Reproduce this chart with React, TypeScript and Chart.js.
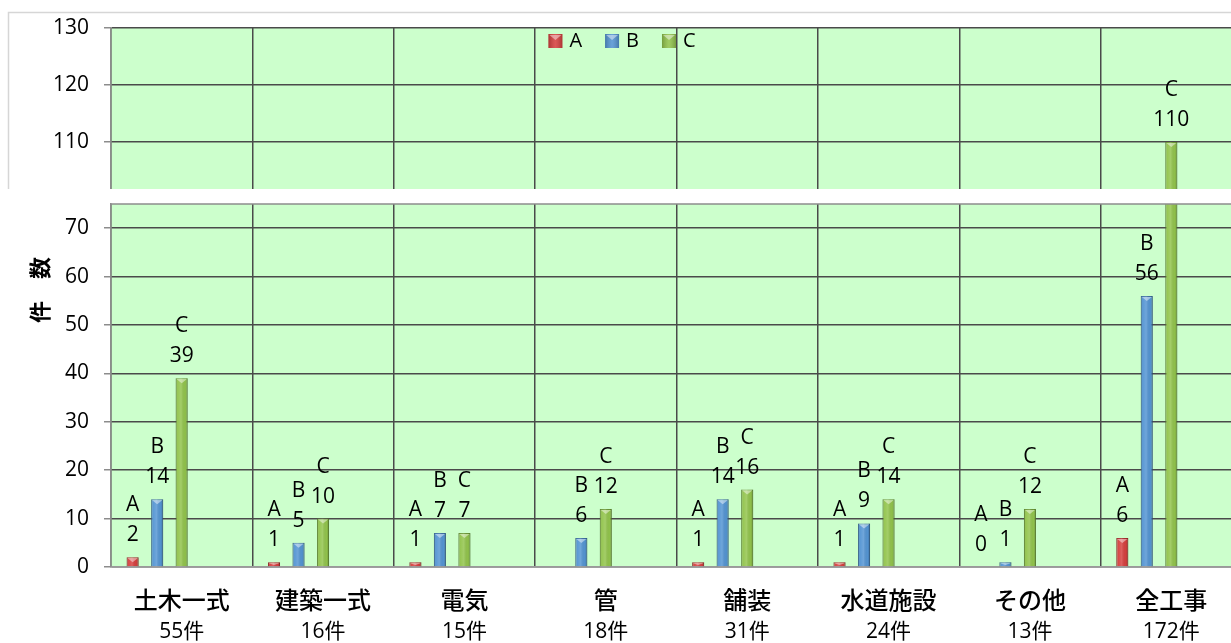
import React, { useEffect, useRef } from 'react';
import { Chart, registerables } from 'chart.js';

Chart.register(...registerables);

// ---- data ----
const categories = ['土木一式', '建築一式', '電気', '管', '舗装', '水道施設', 'その他', '全工事'];
const totals = ['55件', '16件', '15件', '18件', '31件', '24件', '13件', '172件'];
const seriesNames = ['A', 'B', 'C'];
const seriesA = [2, 1, 1, null, 1, 1, 0, 6];
const seriesB = [14, 5, 7, 6, 14, 9, 1, 56];
const seriesC = [39, 10, 7, 12, 16, 14, 12, 110];
const spacer = [null, null, null, null, null, null, null, null];
const topTicks = [110, 120, 130];
const bottomTicks = [0, 10, 20, 30, 40, 50, 60, 70];
const topRange = [101.75, 130];
const bottomRange = [0, 75];
const axisTitle = '件　数';

// ---- styles ----
const fills = ['#D6403F', '#5495D3', '#92C44C'];
const borders = ['#A52F2E', '#3D70A3', '#6B9735'];
const plotBg = '#CCFFCC';
const gridColor = '#4a4a4a';
const axisColor = '#8c8c8c';
const numFont = '"Open Sans", "Noto Sans", sans-serif';
const cjkFont = '"Noto Sans CJK JP", "Noto Sans", sans-serif';
const mixFont = '"Open Sans", "Noto Sans CJK JP", sans-serif';

const seriesData = [seriesA, seriesB, seriesC];

function makeDatasets() {
  const ds: any[] = seriesData.map((d, i) => ({
    label: seriesNames[i],
    data: d,
    backgroundColor: fills[i],
    borderColor: borders[i],
    borderWidth: 1,
    borderSkipped: 'bottom',
  }));
  ds.push({ label: '', data: spacer });
  ds.push({ label: '', data: spacer });
  return ds;
}

const bgPlugin = {
  id: 'plotBg',
  beforeDraw(chart: any) {
    const { ctx, chartArea: a } = chart;
    ctx.save();
    ctx.fillStyle = plotBg;
    ctx.fillRect(a.left, a.top, a.right - a.left, a.bottom - a.top);
    ctx.restore();
  },
};

const barLookPlugin = {
  id: 'barLook',
  afterDatasetsDraw(chart: any) {
    const { ctx, chartArea: a } = chart;
    const yScale = chart.scales.y;
    ctx.save();
    ctx.beginPath();
    ctx.rect(a.left, a.top, a.right - a.left, a.bottom - a.top);
    ctx.clip();
    for (let di = 0; di < 3; di++) {
      const meta = chart.getDatasetMeta(di);
      meta.data.forEach((bar: any, i: number) => {
        const raw = seriesData[di][i];
        if (raw === null || raw === 0) return;
        const { x, y, base, width } = bar.getProps(['x', 'y', 'base', 'width'], true);
        const left = x - width / 2;
        const g = ctx.createLinearGradient(left, 0, left + width, 0);
        g.addColorStop(0, 'rgba(0,0,0,0.22)');
        g.addColorStop(0.18, 'rgba(255,255,255,0.05)');
        g.addColorStop(0.45, 'rgba(255,255,255,0.16)');
        g.addColorStop(0.8, 'rgba(0,0,0,0.02)');
        g.addColorStop(1, 'rgba(0,0,0,0.25)');
        ctx.fillStyle = g;
        ctx.fillRect(left, y, width, base - y);
        if (raw <= yScale.max) {
          ctx.fillStyle = 'rgba(255,255,255,0.45)';
          ctx.beginPath();
          ctx.moveTo(left + 1, y + 1);
          ctx.lineTo(left + width - 1, y + 1);
          ctx.lineTo(x, y + Math.min(5, (base - y) / 1.5));
          ctx.closePath();
          ctx.fill();
        }
      });
    }
    ctx.restore();

    // data labels
    ctx.save();
    ctx.fillStyle = '#000';
    ctx.font = `21px ${numFont}`;
    ctx.textAlign = 'center';
    ctx.textBaseline = 'middle';
    for (let di = 0; di < 3; di++) {
      const meta = chart.getDatasetMeta(di);
      meta.data.forEach((bar: any, i: number) => {
        const raw = seriesData[di][i];
        if (raw === null) return;
        if (raw < yScale.min || raw > yScale.max) return;
        const { x, y } = bar.getProps(['x', 'y'], true);
        ctx.fillText(String(raw), x, y - 22);
        ctx.fillText(seriesNames[di], x, y - 52);
      });
    }
    ctx.restore();
  },
};

const topExtrasPlugin = {
  id: 'topExtras',
  afterDraw(chart: any) {
    const { ctx, chartArea: a } = chart;
    ctx.save();
    // outer frame fragment
    ctx.strokeStyle = '#d6d6d6';
    ctx.lineWidth = 1.5;
    ctx.beginPath();
    ctx.moveTo(8.5, chart.height);
    ctx.lineTo(8.5, 12.5);
    ctx.lineTo(chart.width, 12.5);
    ctx.stroke();
    // legend
    ctx.font = `20px ${numFont}`;
    ctx.textBaseline = 'middle';
    ctx.textAlign = 'left';
    const box = 14;
    const gapText = 7;
    const gapItem = 23;
    const widths = seriesNames.map((n) => box + gapText + ctx.measureText(n).width);
    const total = widths.reduce((s, w) => s + w, 0) + gapItem * (widths.length - 1);
    let cx = chart.width / 2 + 1 - total / 2;
    const cy = a.top + 13;
    seriesNames.forEach((n, i) => {
      const bx = cx;
      const by = cy - box / 2;
      ctx.fillStyle = fills[i];
      ctx.fillRect(bx, by, box, box);
      const g = ctx.createLinearGradient(bx, 0, bx + box, 0);
      g.addColorStop(0, 'rgba(0,0,0,0.2)');
      g.addColorStop(0.5, 'rgba(255,255,255,0.12)');
      g.addColorStop(1, 'rgba(0,0,0,0.2)');
      ctx.fillStyle = g;
      ctx.fillRect(bx, by, box, box);
      ctx.fillStyle = 'rgba(255,255,255,0.45)';
      ctx.beginPath();
      ctx.moveTo(bx + 1, by + 1);
      ctx.lineTo(bx + box - 1, by + 1);
      ctx.lineTo(bx + box / 2, by + 6);
      ctx.closePath();
      ctx.fill();
      ctx.fillStyle = '#000';
      ctx.fillText(n, bx + box + gapText, cy);
      cx += widths[i] + gapItem;
    });
    ctx.restore();
  },
};

const bottomExtrasPlugin = {
  id: 'bottomExtras',
  afterDraw(chart: any) {
    const { ctx, chartArea: a } = chart;
    const xScale = chart.scales.x;
    ctx.save();
    // top edge of lower panel
    ctx.strokeStyle = axisColor;
    ctx.lineWidth = 1.5;
    ctx.beginPath();
    ctx.moveTo(a.left, a.top);
    ctx.lineTo(a.right, a.top);
    ctx.stroke();
    // category labels
    ctx.fillStyle = '#000';
    ctx.textAlign = 'center';
    ctx.textBaseline = 'middle';
    categories.forEach((c, i) => {
      const x = xScale.getPixelForValue(i);
      ctx.font = `500 24px ${cjkFont}`;
      ctx.fillText(c, x, a.bottom + 33);
      ctx.font = `21px ${mixFont}`;
      ctx.fillText(totals[i], x, a.bottom + 65);
    });
    // y axis title
    ctx.font = `bold 22px ${cjkFont}`;
    ctx.translate(40, 290 - 189);
    ctx.rotate(-Math.PI / 2);
    ctx.fillText(axisTitle, 0, 0);
    ctx.restore();
  },
};

function makeConfig(isTop: boolean): any {
  const ticks = isTop ? topTicks : bottomTicks;
  const range = isTop ? topRange : bottomRange;
  return {
    type: 'bar',
    data: { labels: categories, datasets: makeDatasets() },
    plugins: [bgPlugin, barLookPlugin, isTop ? topExtrasPlugin : bottomExtrasPlugin],
    options: {
      responsive: false,
      animation: false,
      devicePixelRatio: 1,
      layout: { padding: { top: isTop ? 28 : 15, left: 0, right: 0, bottom: 0 } },
      datasets: { bar: { categoryPercentage: 0.867, barPercentage: 0.49 } },
      plugins: { legend: { display: false }, tooltip: { enabled: false } },
      scales: {
        x: {
          type: 'category',
          offset: true,
          grid: { display: true, offset: true, color: gridColor, lineWidth: 1.5, drawTicks: false },
          ticks: { display: false },
          border: { display: !isTop, color: '#9a9a9a', width: 1.5 },
          afterFit: (s: any) => {
            s.height = isTop ? 0 : 76;
            s.paddingLeft = 0;
            s.paddingRight = 0;
          },
        },
        y: {
          min: range[0],
          max: range[1],
          grid: { color: gridColor, lineWidth: 1.5, tickLength: 7, tickColor: axisColor, tickWidth: 1.5 },
          border: { color: axisColor, width: 1.5 },
          ticks: { font: { family: numFont, size: 21 }, color: '#000', padding: 15 },
          afterBuildTicks: (s: any) => {
            s.ticks = ticks.map((v) => ({ value: v }));
          },
          afterFit: (s: any) => {
            s.width = 111;
            s.paddingTop = 0;
            s.paddingBottom = 0;
          },
        },
      },
    },
  };
}

export default function App() {
  const topRef = useRef<HTMLCanvasElement | null>(null);
  const botRef = useRef<HTMLCanvasElement | null>(null);

  useEffect(() => {
    const t = new Chart(topRef.current as HTMLCanvasElement, makeConfig(true));
    const b = new Chart(botRef.current as HTMLCanvasElement, makeConfig(false));
    return () => {
      t.destroy();
      b.destroy();
    };
  }, []);

  return (
    <div
      style={{
        position: 'fixed',
        left: 0,
        top: 0,
        width: 1231,
        height: 643,
        overflow: 'hidden',
        background: '#fff',
      }}
    >
      <canvas ref={topRef} width={1242} height={189} style={{ position: 'absolute', left: 0, top: 0 }} />
      <canvas ref={botRef} width={1242} height={454} style={{ position: 'absolute', left: 0, top: 189 }} />
    </div>
  );
}
